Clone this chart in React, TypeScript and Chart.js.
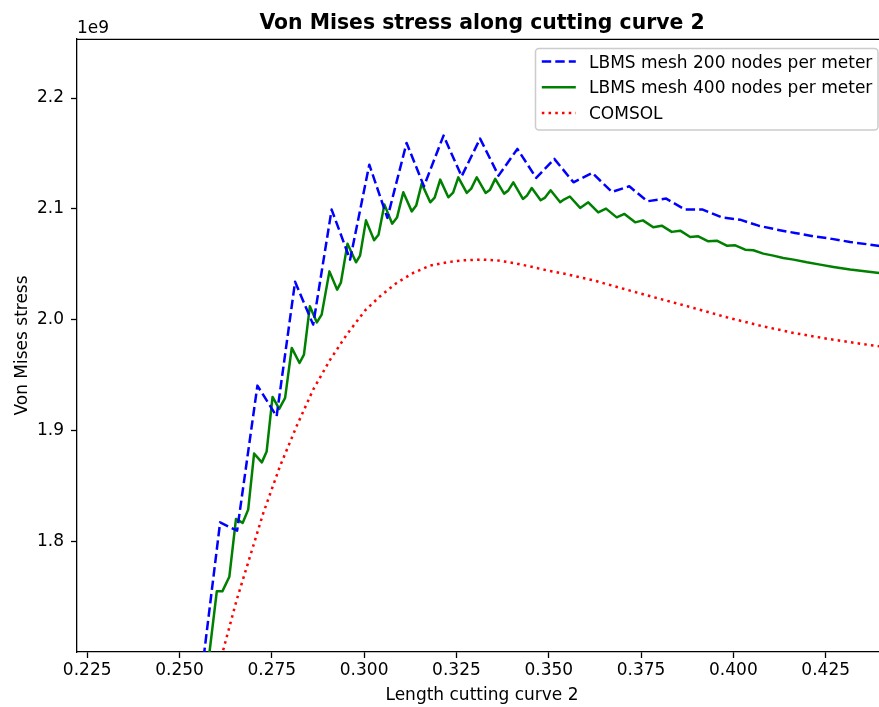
import React, { useEffect, useRef } from "react";
import { Chart, registerables } from "chart.js";

Chart.register(...registerables);

// ---------- data (stress values in units of 1e9) ----------
const TITLE = "Von Mises stress along cutting curve 2";
const X_LABEL = "Length cutting curve 2";
const Y_LABEL = "Von Mises stress";
const OFFSET_TEXT = "1e9";

const X_TICKS = [0.225, 0.25, 0.275, 0.3, 0.325, 0.35, 0.375, 0.4, 0.425];
const Y_TICKS = [1.8, 1.9, 2.0, 2.1, 2.2];
const X_MIN = 0.22224;
const X_MAX = 0.4416;
const Y_MIN = 1.70054;
const Y_MAX = 2.2532;

const LEGEND_LABELS = [
  "LBMS mesh 200 nodes per meter",
  "LBMS mesh 400 nodes per meter",
  "COMSOL",
];

const mesh200X = [
  0.2561, 0.261, 0.2656, 0.2711, 0.2763, 0.2813, 0.2862, 0.2912, 0.2962, 0.3014,
  0.3063, 0.3115, 0.3162, 0.3215, 0.3264, 0.3314, 0.3364, 0.3415, 0.3466, 0.3515,
  0.3567, 0.3618, 0.3671, 0.3718, 0.3767, 0.3818, 0.3869, 0.3917, 0.3969, 0.4018,
  0.4068, 0.4118, 0.4167, 0.4216, 0.4267, 0.4316, 0.4366, 0.4416,
];
const mesh200Y = [
  1.684, 1.8174, 1.8099, 1.9407, 1.913, 2.0343, 1.9957, 2.0994, 2.0543, 2.1399,
  2.0919, 2.1595, 2.1204, 2.1661, 2.1294, 2.1634, 2.13, 2.1541, 2.128, 2.1451,
  2.124, 2.1324, 2.1153, 2.1204, 2.1069, 2.1093, 2.0994, 2.0994, 2.0924, 2.0903,
  2.0849, 2.0813, 2.0783, 2.0753, 2.073, 2.0702, 2.068, 2.0655,
];

const mesh400X = [
  0.2569, 0.2601, 0.2616, 0.2635, 0.2653, 0.2671, 0.2686, 0.2702, 0.2723, 0.2736,
  0.2752, 0.277, 0.2786, 0.2804, 0.2825, 0.2837, 0.2853, 0.2872, 0.2885, 0.2906,
  0.2927, 0.2937, 0.2955, 0.2978, 0.2989, 0.3005, 0.3027, 0.3039, 0.3055, 0.3076,
  0.3089, 0.3106, 0.3129, 0.3141, 0.3156, 0.3179, 0.3191, 0.3206, 0.3228, 0.3241,
  0.3255, 0.3278, 0.329, 0.3305, 0.3329, 0.3341, 0.3355, 0.3379, 0.339, 0.3404,
  0.343, 0.3441, 0.3454, 0.3478, 0.349, 0.3505, 0.3531, 0.3541, 0.3557, 0.3585,
  0.3607, 0.3634, 0.3655, 0.3684, 0.3705, 0.3734, 0.3755, 0.3783, 0.3806, 0.3833,
  0.3856, 0.3883, 0.3905, 0.3932, 0.3955, 0.3982, 0.4005, 0.4032, 0.4054, 0.4081,
  0.4108, 0.4135, 0.4163, 0.4199, 0.4235, 0.4271, 0.4316, 0.4395, 0.4416,
];
const mesh400Y = [
  1.6665, 1.7552, 1.7552, 1.7684, 1.8205, 1.8169, 1.8289, 1.8794, 1.8715, 1.8814,
  1.9305, 1.9197, 1.9296, 1.9747, 1.9611, 1.9686, 2.0122, 1.9977, 2.0047, 2.0437,
  2.0272, 2.0335, 2.0687, 2.0519, 2.0579, 2.0897, 2.0717, 2.0768, 2.1039, 2.0867,
  2.0922, 2.115, 2.0978, 2.103, 2.1228, 2.106, 2.1102, 2.1264, 2.1105, 2.1147,
  2.1285, 2.1144, 2.1183, 2.1285, 2.1144, 2.1174, 2.1271, 2.1138, 2.1165, 2.124,
  2.109, 2.112, 2.1189, 2.1078, 2.1102, 2.1168, 2.106, 2.1084, 2.1112, 2.1009,
  2.106, 2.0969, 2.1003, 2.0924, 2.0955, 2.0879, 2.0897, 2.0834, 2.0849, 2.0793,
  2.0804, 2.0747, 2.0753, 2.0708, 2.0714, 2.0669, 2.0672, 2.0633, 2.0627, 2.0597,
  2.0579, 2.0558, 2.0543, 2.0519, 2.0498, 2.0477, 2.0453, 2.0423, 2.0414,
];

const comsolX = [
  0.2604, 0.2621, 0.2655, 0.2691, 0.2727, 0.2772, 0.2817, 0.2862, 0.2908, 0.2953,
  0.3002, 0.3043, 0.3088, 0.3133, 0.3179, 0.3224, 0.3269, 0.3314, 0.3359, 0.3404,
  0.3449, 0.3495, 0.354, 0.3621, 0.3711, 0.3802, 0.3892, 0.3982, 0.4072, 0.4163,
  0.4253, 0.4343, 0.4395, 0.4416,
];
const comsolY = [
  1.6846, 1.7056, 1.7477, 1.7867, 1.8259, 1.8679, 1.904, 1.9371, 1.9641, 1.9867,
  2.0083, 2.0212, 2.0333, 2.0423, 2.0489, 2.0519, 2.0537, 2.0543, 2.0537, 2.0513,
  2.0482, 2.0446, 2.0417, 2.0356, 2.0272, 2.0188, 2.0107, 2.0023, 1.9948, 1.9882,
  1.983, 1.9785, 1.9761, 1.9749,
];

// ---------- styling ----------
const FONT = "'DejaVu Sans', 'Liberation Sans', sans-serif";
const COLORS = ["#0000ff", "#008000", "#ff0000"];
const DASHES = [[9.4, 4.1], [], [2.54, 4.19]];
const LW = 2.5;

const toPoints = (xs: number[], ys: number[]) =>
  xs.map((x, i) => ({ x, y: ys[i] * 1e9 }));

const decorPlugin = {
  id: "decor",
  afterDraw(chart: any) {
    const { ctx, chartArea: a } = chart;
    ctx.save();
    // top spine
    ctx.strokeStyle = "#000";
    ctx.lineWidth = 1.3;
    ctx.setLineDash([]);
    ctx.beginPath();
    ctx.moveTo(a.left - 0.6, a.top + 0.3);
    ctx.lineTo(a.right, a.top + 0.3);
    ctx.stroke();

    ctx.fillStyle = "#000";
    // title
    ctx.font = `bold 20.4px ${FONT}`;
    ctx.textAlign = "center";
    ctx.textBaseline = "alphabetic";
    ctx.fillText(TITLE, (a.left + a.right) / 2, 29);
    // offset text
    ctx.font = `17px ${FONT}`;
    ctx.textAlign = "left";
    ctx.fillText(OFFSET_TEXT, a.left, 33.3);
    // x label
    ctx.textAlign = "center";
    ctx.fillText(X_LABEL, (a.left + a.right) / 2, 700);
    // y label
    ctx.save();
    ctx.translate(26.7, (a.top + a.bottom) / 2);
    ctx.rotate(-Math.PI / 2);
    ctx.fillText(Y_LABEL, 0, 0);
    ctx.restore();

    // legend
    const bx = 535.5, by = 48.5, bw = 342.5, bh = 81.5, r = 3.4;
    ctx.beginPath();
    ctx.moveTo(bx + r, by);
    ctx.lineTo(bx + bw - r, by);
    ctx.arcTo(bx + bw, by, bx + bw, by + r, r);
    ctx.lineTo(bx + bw, by + bh - r);
    ctx.arcTo(bx + bw, by + bh, bx + bw - r, by + bh, r);
    ctx.lineTo(bx + r, by + bh);
    ctx.arcTo(bx, by + bh, bx, by + bh - r, r);
    ctx.lineTo(bx, by + r);
    ctx.arcTo(bx, by, bx + r, by, r);
    ctx.closePath();
    ctx.fillStyle = "rgba(255,255,255,0.8)";
    ctx.fill();
    ctx.strokeStyle = "#cccccc";
    ctx.lineWidth = 1.5;
    ctx.stroke();

    const baselines = [67.5, 93.2, 119];
    LEGEND_LABELS.forEach((label, i) => {
      const yb = baselines[i];
      const yl = yb - 6;
      ctx.strokeStyle = COLORS[i];
      ctx.lineWidth = LW;
      ctx.setLineDash(DASHES[i]);
      ctx.lineCap = "butt";
      ctx.beginPath();
      ctx.moveTo(541.8, yl);
      ctx.lineTo(575.8, yl);
      ctx.stroke();
      ctx.setLineDash([]);
      ctx.fillStyle = "#000";
      ctx.font = `17px ${FONT}`;
      ctx.textAlign = "left";
      ctx.textBaseline = "alphabetic";
      ctx.fillText(label, 589, yb);
    });
    ctx.restore();
  },
};

export default function App() {
  const ref = useRef<HTMLCanvasElement | null>(null);

  useEffect(() => {
    if (!ref.current) return;
    const series = [
      toPoints(mesh200X, mesh200Y),
      toPoints(mesh400X, mesh400Y),
      toPoints(comsolX, comsolY),
    ];
    const chart = new Chart(ref.current, {
      type: "line",
      data: {
        datasets: series.map((data, i) => ({
          label: LEGEND_LABELS[i],
          data,
          borderColor: COLORS[i],
          backgroundColor: COLORS[i],
          borderWidth: LW,
          borderDash: DASHES[i],
          borderJoinStyle: "round" as const,
          borderCapStyle: "butt" as const,
          pointRadius: 0,
          tension: 0,
          fill: false,
          clip: 0,
        })),
      },
      options: {
        responsive: false,
        animation: false,
        devicePixelRatio: 1,
        events: [],
        layout: { padding: { left: 0, top: 39, right: 13, bottom: 0 } },
        plugins: {
          legend: { display: false },
          title: { display: false },
          tooltip: { enabled: false },
        },
        scales: {
          x: {
            type: "linear",
            min: X_MIN,
            max: X_MAX,
            afterBuildTicks: (scale: any) => {
              scale.ticks = X_TICKS.map((v) => ({ value: v }));
            },
            afterFit: (scale: any) => {
              scale.height = 55;
            },
            grid: {
              drawOnChartArea: false,
              drawTicks: true,
              tickLength: 6,
              tickWidth: 1.3,
              tickColor: "#000",
            },
            border: { display: true, color: "#000", width: 1.3 },
            ticks: {
              color: "#000",
              font: { family: FONT, size: 17 },
              padding: 2,
              maxRotation: 0,
              autoSkip: false,
              callback: (v: any) => Number(v).toFixed(3),
            },
          },
          y: {
            type: "linear",
            min: Y_MIN * 1e9,
            max: Y_MAX * 1e9,
            afterBuildTicks: (scale: any) => {
              scale.ticks = Y_TICKS.map((v) => ({ value: v * 1e9 }));
            },
            afterFit: (scale: any) => {
              scale.width = 77;
            },
            grid: {
              drawOnChartArea: false,
              drawTicks: true,
              tickLength: 6,
              tickWidth: 1.3,
              tickColor: "#000",
            },
            border: { display: true, color: "#000", width: 1.3 },
            ticks: {
              color: "#000",
              font: { family: FONT, size: 17 },
              padding: 7,
              autoSkip: false,
              callback: (v: any) => (Number(v) / 1e9).toFixed(1),
            },
          },
        },
      },
      plugins: [decorPlugin],
    });
    return () => chart.destroy();
  }, []);

  return (
    <div
      style={{
        position: "fixed",
        left: 0,
        top: 0,
        width: 879,
        height: 707,
        overflow: "hidden",
        background: "#fff",
      }}
    >
      <canvas
        ref={ref}
        width={900}
        height={707}
        style={{ display: "block", width: 900, height: 707 }}
      />
    </div>
  );
}
